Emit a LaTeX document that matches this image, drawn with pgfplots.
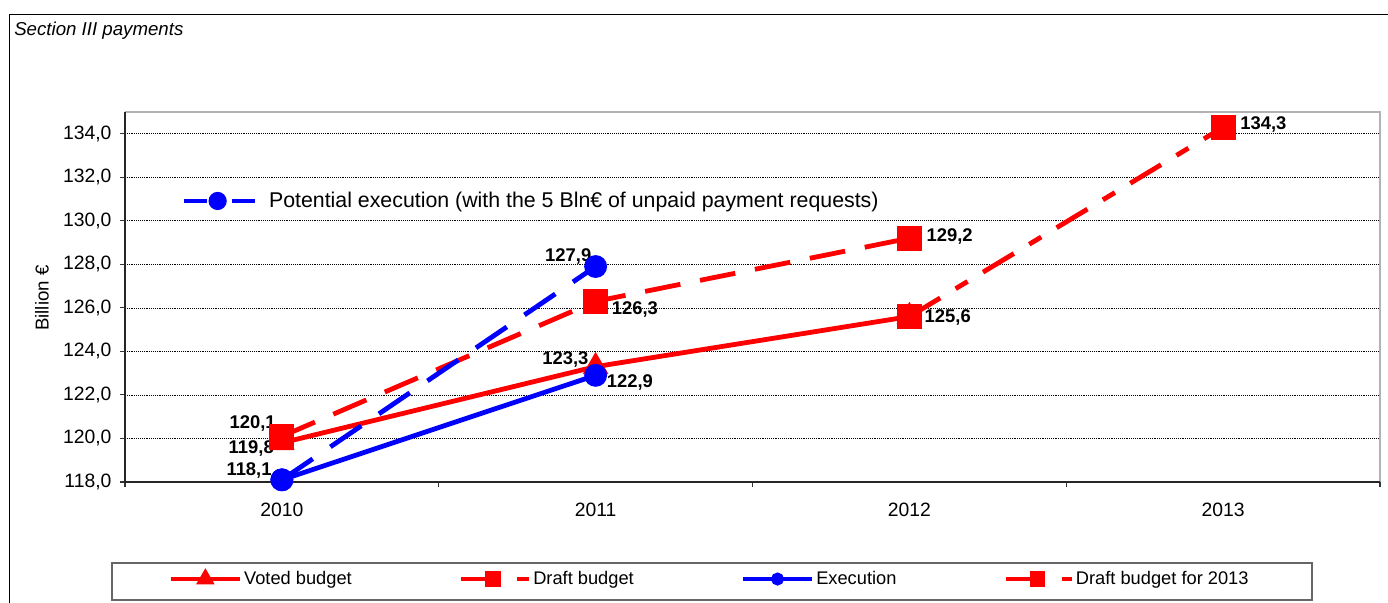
\documentclass[border=0pt]{standalone}
\usepackage{fontspec}
\setmainfont{Liberation Sans}
\usepackage{pgfplots}
\pgfplotsset{compat=1.18}
\definecolor{myred}{RGB}{255,0,0}
\definecolor{myblue}{RGB}{0,0,255}
\newcommand{\fsz}{\fontsize{14pt}{17pt}\selectfont}
\newcommand{\fszl}{\fontsize{13.7pt}{16pt}\selectfont}
\newcommand{\fszt}{\fontsize{14.5pt}{17pt}\selectfont}
\newcommand{\fszd}{\fontsize{13.8pt}{16pt}\selectfont}
\pgfplotsset{
  legvoted/.style={legend image code/.code={\draw[##1, mark repeat=2, mark phase=2, mark size=4.5pt] plot coordinates {(0pt,0pt) (26pt,0pt) (51.75pt,0pt)};}},
  legdraft/.style={legend image code/.code={\draw[##1, mark repeat=2, mark phase=2, mark size=4.1pt, dash pattern=on 28.5pt off 13.5pt on 9pt off 20pt] plot coordinates {(0pt,0pt) (24pt,0pt) (51pt,0pt)};}},
  legexec/.style={legend image code/.code={\draw[##1, mark repeat=2, mark phase=2, mark size=3pt] plot coordinates {(0pt,0pt) (26pt,0pt) (51.75pt,0pt)};}},
  legdraftb/.style={legend image code/.code={\draw[##1, mark repeat=2, mark phase=2, mark size=4.1pt, dash pattern=on 28.5pt off 13.5pt on 7.5pt off 20pt] plot coordinates {(0pt,0pt) (24pt,0pt) (49.5pt,0pt)};}},
  legpot/.style={legend image code/.code={\draw[##1, mark repeat=2, mark phase=2, mark size=5pt, dash pattern=on 17.25pt off 18.75pt on 17.25pt off 5pt] plot coordinates {(0pt,0pt) (25.5pt,0pt) (53.25pt,0pt)};}},
}
\begin{document}
\begin{tikzpicture}
\path[use as bounding box] (0,0) rectangle (1041pt,452.25pt);
\draw[black, line width=1.2pt] (7.1pt,-2pt) -- (7.1pt,441.4pt) -- (1045pt,441.4pt);
\node[anchor=base west, inner sep=0pt, font=\fsz\itshape] at (10.5pt,425.25pt) {Section III payments};

\begin{axis}[
  at={(93.75pt,90.75pt)}, anchor=south west,
  width=941.25pt, height=277.5pt, scale only axis,
  xmin=-0.5, xmax=3.5, ymin=118, ymax=135,
  clip=false,
  axis line style={draw=none},
  xtick={0,1,2,3}, xticklabels={2010,2011,2012,2013},
  minor xtick={-0.5,0.5,1.5,2.5,3.5},
  ytick={118,120,...,134},
  tick pos=left,
  tick align=outside,
  major tick length=3.5pt, minor tick length=3.5pt,
  major x tick style={draw=none},
  minor x tick style={black!80, line width=0.8pt},
  major y tick style={black!80, line width=0.8pt},
  ymajorgrids, major grid style={black, densely dotted, line width=0.5pt},
  font=\fsz,
  yticklabel style={/pgf/number format/fixed, /pgf/number format/fixed zerofill, /pgf/number format/precision=1, /pgf/number format/use comma, /pgf/number format/assume math mode=true, inner sep=0pt, anchor=east, xshift=-6.5pt, font=\fszt},
  xticklabel style={/pgf/number format/assume math mode=true, inner sep=0pt, anchor=north, yshift=-12pt, font=\fszt},
  ylabel={Billion €},
  ylabel style={at={(axis description cs:-0.0661,0.497)}, anchor=center, font=\fontsize{14pt}{16pt}\selectfont},
  legend columns=4,
  legend cell align=left,
  legend style={at={(axis description cs:0.0343,-0.2622)}, anchor=west, draw=none, fill=none, inner sep=0pt,
    nodes={inner sep=0pt}, font=\fszl,
    /tikz/every odd column/.append style={column sep=1.5pt},
    /tikz/every even column/.append style={column sep=80pt}},
]
\addplot[myred, line width=3.6pt, mark=triangle*, mark size=7.5pt, mark options={solid}, legvoted]
  coordinates {(0,119.8) (1,123.3) (2,125.6)};
\addlegendentry{Voted budget}
\addplot[myred, line width=3.6pt, dash pattern=on 27pt off 15pt, mark=square*, mark size=7.5pt, mark options={solid}, legdraft]
  coordinates {(0,120.1) (1,126.3) (2,129.2)};
\addlegendentry{Draft budget}
\addplot[myblue, line width=3.6pt, mark=*, mark size=6.75pt, mark options={solid}, legexec]
  coordinates {(0,118.1) (1,122.9)};
\addlegendentry{Execution}
\addplot[myred, line width=3.6pt, dash pattern=on 27pt off 13.5pt on 10.5pt off 13.5pt, mark=square*, mark size=7.5pt, mark options={solid}, legdraftb]
  coordinates {(2,125.6) (3,134.3)};
\addlegendentry{Draft budget for 2013}

% frame
\draw[gray!60, line width=0.9pt] (rel axis cs:0,1) -- (rel axis cs:1,1) -- (rel axis cs:1,0);
\draw[black!85, line width=0.9pt] (rel axis cs:0,1) -- (rel axis cs:0,0) -- (rel axis cs:1,0);
% legend box
\draw[black!60, line width=1pt] (axis description cs:-0.01036,-0.2189) rectangle (axis description cs:0.9458,-0.3189);

% data labels
\begin{scope}[every node/.style={inner sep=0pt, font=\fszd\bfseries}]
\node[anchor=east] at (axis cs:-0.019,120.71) {120,1};
\node[anchor=east] at (axis cs:-0.025,119.56) {119,8};
\node[anchor=east] at (axis cs:-0.032,118.55) {118,1};
\node[anchor=east] at (axis cs:0.987,128.34) {127,9};
\node[anchor=west] at (axis cs:1.051,125.91) {126,3};
\node[anchor=east] at (axis cs:0.978,123.61) {123,3};
\node[anchor=west] at (axis cs:1.035,122.55) {122,9};
\node[anchor=west] at (axis cs:2.054,129.26) {129,2};
\node[anchor=west] at (axis cs:2.048,125.54) {125,6};
\node[anchor=west] at (axis cs:3.054,134.41) {134,3};
\end{scope}
\end{axis}

\begin{axis}[
  at={(93.75pt,90.75pt)}, anchor=south west,
  width=941.25pt, height=277.5pt, scale only axis,
  xmin=-0.5, xmax=3.5, ymin=118, ymax=135,
  clip=false, hide axis,
  legend style={at={(axis description cs:0.0446,0.7595)}, anchor=west, draw=none, fill=none, inner sep=0pt,
    nodes={inner sep=0pt}, font=\fontsize{16pt}{19pt}\selectfont,
    /tikz/every odd column/.append style={column sep=9pt}},
]
\addplot[myblue, line width=3.6pt, dash pattern=on 28pt off 16pt, mark=*, mark size=6.75pt, mark options={solid}, legpot]
  coordinates {(0,118.1) (1,127.9)};
\addlegendentry{Potential execution (with the 5 Bln€ of unpaid payment requests)}
\end{axis}
\end{tikzpicture}
\end{document}
